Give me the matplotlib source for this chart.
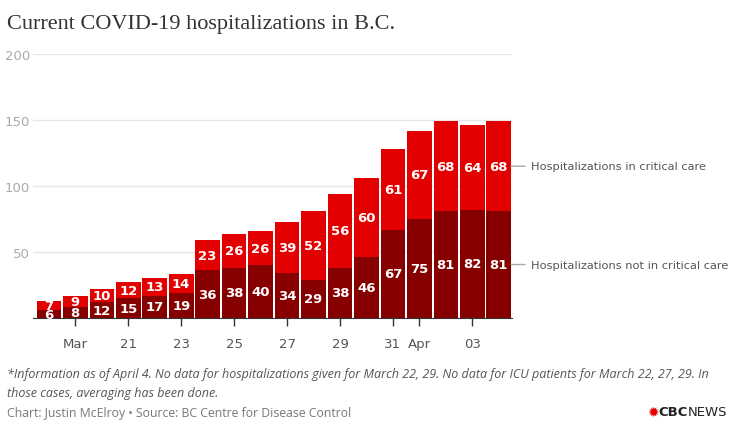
import matplotlib.pyplot as plt
import numpy as np

# Mar 18 .. Apr 4
days = ['Mar 18', 'Mar 19', 'Mar 20', 'Mar 21', 'Mar 22', 'Mar 23', 'Mar 24', 'Mar 25', 'Mar 26',
        'Mar 27', 'Mar 28', 'Mar 29', 'Mar 30', 'Mar 31', 'Apr 1', 'Apr 2', 'Apr 3', 'Apr 4']
not_critical = [6, 8, 12, 15, 17, 19, 36, 38, 40, 34, 29, 38, 46, 67, 75, 81, 82, 81]
critical = [7, 9, 10, 12, 13, 14, 23, 26, 26, 39, 52, 56, 60, 61, 67, 68, 64, 68]

tick_idx = [1, 3, 5, 7, 9, 11, 13, 14, 16]
tick_labels = ['Mar', '21', '23', '25', '27', '29', '31', 'Apr', '03']

dark = '#870000'
red = '#e20000'

fig = plt.figure(figsize=(7.48, 4.27), dpi=100)
ax = fig.add_axes([33 / 748, 1 - 319 / 427, (512 - 33) / 748, (319 - 55) / 427])

x = np.arange(len(days))
nc = np.array(not_critical)
cc = np.array(critical)
ax.bar(x, nc, width=0.93, color=dark, zorder=2)
ax.bar(x, cc, width=0.93, bottom=nc, color=red, zorder=2)

for i in range(len(days)):
    ax.text(x[i], nc[i] / 2, str(nc[i]), ha='center', va='center', color='white',
            fontsize=9.5, fontweight='bold', zorder=3)
    ax.text(x[i], nc[i] + cc[i] / 2, str(cc[i]), ha='center', va='center', color='white',
            fontsize=9.5, fontweight='bold', zorder=3)

ax.set_xlim(-0.6, len(days) - 0.5)
ax.set_ylim(0, 200)
ax.set_yticks([50, 100, 150, 200])
ax.yaxis.grid(True, color='#e6e6e6', linewidth=1, zorder=0)
ax.tick_params(axis='y', length=0, labelsize=9.5, labelcolor='#aaaaaa', pad=2)

ax.set_xticks(tick_idx)
ax.set_xticklabels(tick_labels)
ax.tick_params(axis='x', length=6, width=1, color='#333333', direction='out',
               labelsize=9.5, labelcolor='#555555', pad=8)

for s in ['top', 'right', 'left']:
    ax.spines[s].set_visible(False)
ax.spines['bottom'].set_color('#333333')

# direct labels to the right of the last bar
last = len(days) - 1
for txt, yv in [('Hospitalizations in critical care', nc[last] + cc[last] / 2),
                ('Hospitalizations not in critical care', nc[last] / 2)]:
    ax.annotate(txt, xy=(last + 0.47, yv), xytext=(14, 0), textcoords='offset points',
                va='center', fontsize=8.2, color='#555555', annotation_clip=False,
                arrowprops=dict(arrowstyle='-', color='#aaaaaa', shrinkA=2, shrinkB=0))

fig.text(7 / 748, 1 - 25 / 427, 'Current COVID-19 hospitalizations in B.C.', family='Liberation Serif',
         fontsize=16, color='#333333', va='center')

fig.text(7 / 748, 1 - 375 / 427,
         '*Information as of April 4. No data for hospitalizations given for March 22, 29. '
         'No data for ICU patients for March 22, 27, 29. In', fontsize=9, style='italic',
         color='#555555', va='center', family='Open Sans')
fig.text(7 / 748, 1 - 394 / 427, 'those cases, averaging has been done.', fontsize=9,
         style='italic', color='#555555', va='center', family='Open Sans')
fig.text(7 / 748, 1 - 414 / 427, 'Chart: Justin McElroy \u2022 Source: BC Centre for Disease Control',
         fontsize=8.8, color='#777777', va='center', family='Open Sans')

fig.text(659 / 748, 1 - 413 / 427, '\u2739', fontsize=10, color='#e60000', va='center', ha='right')
fig.text(688 / 748, 1 - 413 / 427, 'CBC', fontsize=9.5, fontweight='bold', color='#222222',
         va='center', ha='right')
fig.text(688 / 748, 1 - 413 / 427, 'NEWS', fontsize=9.5, color='#222222', va='center', ha='left')

fig.savefig('out.png', dpi=100, facecolor='white')
